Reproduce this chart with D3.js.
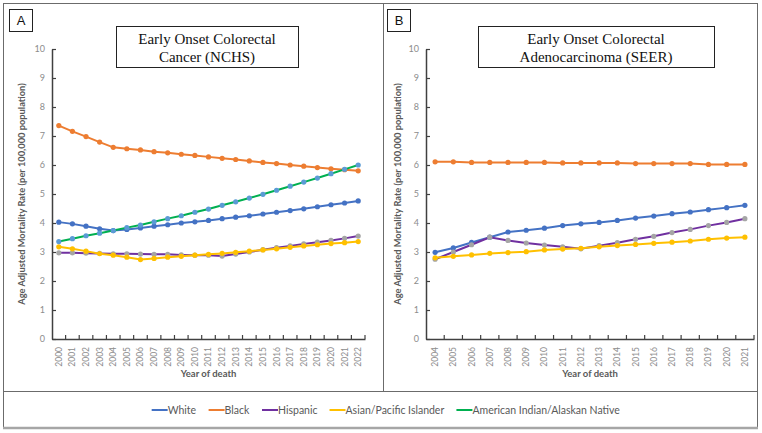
<!DOCTYPE html>
<html>
<head>
<meta charset="utf-8">
<script src="https://cdn.jsdelivr.net/npm/d3@7"></script>
<style>
  body { margin: 0; background: #fff; }
  svg { display: block; }
</style>
</head>
<body>
<div id="chart"></div>
<script>
// categories
var yearsA = ["2000","2001","2002","2003","2004","2005","2006","2007","2008","2009","2010","2011","2012","2013","2014","2015","2016","2017","2018","2019","2020","2021","2022"];
var yearsB = ["2004","2005","2006","2007","2008","2009","2010","2011","2012","2013","2014","2015","2016","2017","2018","2019","2020","2021"];
var yTicks = [0,1,2,3,4,5,6,7,8,9,10];
var groupNames = ["White","Black","Hispanic","Asian/Pacific Islander","American Indian/Alaskan Native"];

// panel A (NCHS)
var whiteA = [4.03,3.97,3.89,3.80,3.74,3.78,3.83,3.89,3.94,4.00,4.04,4.09,4.15,4.20,4.25,4.31,4.37,4.43,4.49,4.56,4.63,4.69,4.76];
var blackA = [7.36,7.16,6.98,6.79,6.61,6.56,6.52,6.46,6.42,6.37,6.33,6.28,6.23,6.19,6.14,6.09,6.05,6.00,5.96,5.91,5.87,5.84,5.80];
var hispA  = [2.97,2.97,2.96,2.95,2.94,2.94,2.93,2.92,2.92,2.90,2.89,2.89,2.86,2.93,3.00,3.08,3.15,3.21,3.28,3.34,3.40,3.47,3.55];
var asianA = [3.18,3.11,3.03,2.94,2.89,2.82,2.74,2.78,2.82,2.85,2.89,2.92,2.95,2.99,3.03,3.07,3.11,3.16,3.21,3.25,3.29,3.32,3.36];
var aianA  = [3.36,3.46,3.56,3.65,3.74,3.84,3.93,4.04,4.15,4.25,4.37,4.48,4.61,4.73,4.86,4.99,5.13,5.27,5.41,5.55,5.70,5.85,6.00];

// panel B (SEER)
var whiteB = [2.99,3.14,3.33,3.51,3.69,3.75,3.82,3.91,3.97,4.02,4.09,4.17,4.24,4.32,4.38,4.46,4.53,4.61];
var blackB = [6.11,6.11,6.09,6.09,6.09,6.09,6.09,6.07,6.07,6.07,6.07,6.05,6.05,6.05,6.05,6.02,6.02,6.02];
var hispB  = [2.75,3.00,3.25,3.51,3.40,3.31,3.24,3.18,3.11,3.22,3.32,3.44,3.54,3.67,3.78,3.91,4.02,4.15];
var asianB = [2.80,2.85,2.90,2.95,2.98,3.01,3.07,3.10,3.13,3.18,3.22,3.26,3.30,3.34,3.38,3.44,3.48,3.51];

var lineColors   = ["#4472C4","#ED7D31","#7030A0","#FFC000","#00B050"];
var markerColors = ["#4472C4","#ED7D31","#A5A5A5","#FFC000","#5B9BD5"];

var W = 762, H = 433;
var uiFont = "Lato, 'Open Sans', sans-serif";

var svg = d3.select("#chart").append("svg")
    .attr("width", W)
    .attr("height", H);

// frame
svg.append("rect")
    .attr("x", 3.5).attr("y", 3.5)
    .attr("width", 754).attr("height", 424)
    .attr("fill", "none")
    .attr("stroke", "#6b6b6b")
    .attr("stroke-width", 1);
svg.append("line")
    .attr("x1", 3).attr("x2", 758).attr("y1", 428).attr("y2", 428)
    .attr("stroke", "#a6a6a6").attr("stroke-width", 2.5);
svg.append("line")
    .attr("x1", 383.5).attr("x2", 383.5).attr("y1", 3.5).attr("y2", 391)
    .attr("stroke", "#6b6b6b");
svg.append("line")
    .attr("x1", 3.5).attr("x2", 757.5).attr("y1", 391.5).attr("y2", 391.5)
    .attr("stroke", "#6b6b6b");

function drawPanel(opt) {
    var g = svg.append("g");

    var x = d3.scaleBand()
        .domain(opt.years)
        .range([opt.left, opt.right])
        .padding(0);
    var y = d3.scaleLinear()
        .domain([0, 10])
        .range([339, 49]);

    // letter box
    g.append("rect")
        .attr("x", opt.letterX + 0.5).attr("y", 9.5)
        .attr("width", 23).attr("height", 22)
        .attr("fill", "#fff").attr("stroke", "#222").attr("stroke-width", 1);
    g.append("text")
        .attr("x", opt.letterX + 12).attr("y", 25)
        .attr("text-anchor", "middle")
        .style("font-family", "'Liberation Sans', Arial, sans-serif")
        .style("font-size", "13px")
        .attr("fill", "#111")
        .text(opt.letter);

    // title box
    g.append("rect")
        .attr("x", opt.titleX + 0.5).attr("y", 26.5)
        .attr("width", opt.titleW).attr("height", 41)
        .attr("fill", "#fff").attr("stroke", "#222").attr("stroke-width", 1);
    opt.title.forEach(function(t, i) {
        g.append("text")
            .attr("x", opt.titleX + opt.titleW / 2)
            .attr("y", 44 + i * 18)
            .attr("text-anchor", "middle")
            .style("font-family", "'Liberation Serif', 'Times New Roman', serif")
            .style("font-size", "15px")
            .attr("fill", "#111")
            .text(t);
    });

    // y axis
    var yAxis = g.append("g")
        .attr("transform", "translate(" + opt.left + ",0)")
        .call(d3.axisLeft(y).tickValues(yTicks).tickSize(-4).tickSizeOuter(0).tickPadding(7));
    yAxis.select(".domain").attr("stroke", "#404040").attr("stroke-width", 1.5);
    yAxis.selectAll(".tick line").attr("stroke", "#404040").attr("stroke-width", 1.2);
    yAxis.selectAll(".tick text")
        .attr("fill", "#8c8c8c")
        .style("font-family", uiFont)
        .style("font-size", "9px");

    // x axis
    var xAxis = g.append("g")
        .attr("transform", "translate(0,339)")
        .call(d3.axisBottom(x).tickSize(0).tickSizeOuter(0));
    xAxis.select(".domain").attr("stroke", "#404040").attr("stroke-width", 1.5);
    xAxis.selectAll(".tick text")
        .attr("transform", "rotate(-90)")
        .attr("x", -8).attr("y", 0).attr("dy", "0.35em")
        .attr("text-anchor", "end")
        .attr("fill", "#8c8c8c")
        .style("font-family", uiFont)
        .style("font-size", "8.5px");

    // excel-style ticks between categories
    var bounds = opt.years.map(function(d) { return x(d) + x.step(); });
    g.selectAll("line.xtick")
        .data(bounds)
        .enter().append("line")
        .attr("class", "xtick")
        .attr("x1", function(d) { return d; })
        .attr("x2", function(d) { return d; })
        .attr("y1", 339).attr("y2", 335)
        .attr("stroke", "#404040").attr("stroke-width", 1.2);

    // axis titles
    g.append("text")
        .attr("transform", "translate(" + opt.yTitleX + "," + ((339 + 49) / 2) + ") rotate(-90)")
        .attr("text-anchor", "middle")
        .attr("fill", "#595959")
        .style("font-family", uiFont)
        .style("font-size", "9.3px")
        .style("font-weight", "bold")
        .text("Age Adjusted Mortality Rate (per 100,000 population)");
    g.append("text")
        .attr("x", (opt.left + opt.right) / 2)
        .attr("y", 377)
        .attr("text-anchor", "middle")
        .attr("fill", "#595959")
        .style("font-family", uiFont)
        .style("font-size", "9.5px")
        .style("font-weight", "bold")
        .text("Year of death");

    // series
    var line = d3.line()
        .x(function(d, i) { return x(opt.years[i]) + x.bandwidth() / 2; })
        .y(function(d) { return y(d); });

    opt.series.forEach(function(vals, k) {
        if (!vals) return;
        g.append("path")
            .datum(vals)
            .attr("fill", "none")
            .attr("stroke", lineColors[k])
            .attr("stroke-width", 2)
            .attr("d", line);
        g.selectAll("circle.s" + k)
            .data(vals)
            .enter().append("circle")
            .attr("class", "s" + k)
            .attr("cx", function(d, i) { return x(opt.years[i]) + x.bandwidth() / 2; })
            .attr("cy", function(d) { return y(d); })
            .attr("r", 2.6)
            .attr("fill", markerColors[k]);
    });
}

drawPanel({
    letter: "A", letterX: 9,
    title: ["Early Onset Colorectal", "Cancer (NCHS)"],
    titleX: 116, titleW: 182,
    left: 52, right: 365, yTitleX: 25,
    years: yearsA,
    series: [whiteA, blackA, hispA, asianA, aianA]
});

drawPanel({
    letter: "B", letterX: 387,
    title: ["Early Onset Colorectal", "Adenocarcinoma (SEER)"],
    titleX: 478, titleW: 236,
    left: 426, right: 754, yTitleX: 401,
    years: yearsB,
    series: [whiteB, blackB, hispB, asianB, null]
});

// legend
var legend = svg.append("g");
var items = legend.selectAll("g.item")
    .data(groupNames)
    .enter().append("g")
    .attr("class", "item");
items.append("line")
    .attr("x1", 0).attr("x2", 16)
    .attr("y1", 0).attr("y2", 0)
    .attr("stroke", function(d, i) { return lineColors[i]; })
    .attr("stroke-width", 2);
items.append("text")
    .attr("x", 16).attr("y", 0).attr("dy", "0.35em")
    .attr("fill", "#595959")
    .style("font-family", uiFont)
    .style("font-size", "10.5px")
    .text(function(d) { return d; });

var pos = 0, offsets = [];
items.each(function() {
    offsets.push(pos);
    pos += this.getBBox().width + 12;
});
var legendW = pos - 12;
var startX = 386 - legendW / 2;
items.attr("transform", function(d, i) { return "translate(" + (startX + offsets[i]) + ",410)"; });
</script>
</body>
</html>
